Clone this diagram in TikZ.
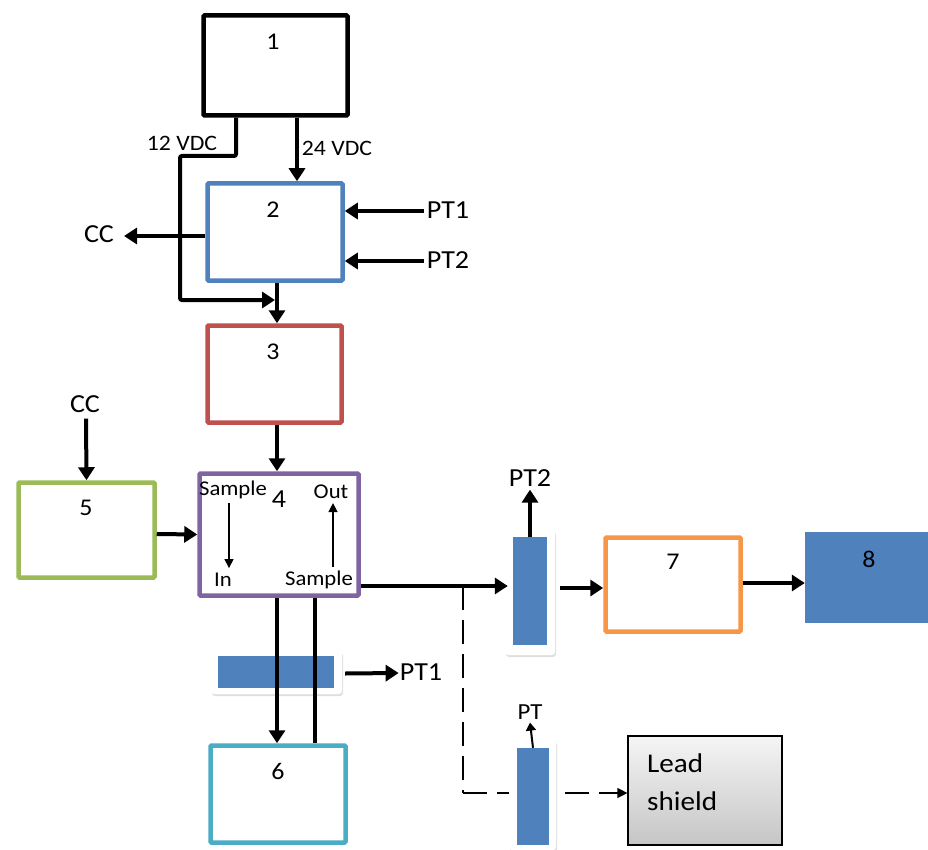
\documentclass[tikz,border=0pt]{standalone}
\usepackage{fontspec}
\setmainfont{Carlito}[FakeStretch=1.08]
\usetikzlibrary{arrows.meta,calc,shadows}
\definecolor{cblue}{RGB}{79,129,189}
\definecolor{cred}{RGB}{192,80,77}
\definecolor{cpurple}{RGB}{128,100,162}
\definecolor{cgreen}{RGB}{155,187,89}
\definecolor{ccyan}{RGB}{75,172,198}
\definecolor{corange}{RGB}{247,150,70}
\newcommand{\fs}[1]{\fontsize{#1}{#1}\selectfont}
\begin{document}
\begin{tikzpicture}[x=1pt,y=-1pt,
  box/.style={draw, line width=4.5pt, rectangle, inner sep=0pt, fill=white, rounded corners=1pt},
  arr/.style={line width=4pt, -{Triangle[length=13pt,width=16pt]}},
  thinarr/.style={line width=1.4pt, -{Triangle[length=9pt,width=9pt]}},
  lbl/.style={inner sep=0pt, font=\fs{24}},
  ptl/.style={inner sep=0pt, font=\fs{26}},
  small/.style={inner sep=0pt, font=\fs{21}},
  barframe/.style={rectangle, fill=white, rounded corners=3pt, inner sep=0pt,
     drop shadow={opacity=0.25, shadow xshift=1pt, shadow yshift=-2pt}},
  bluebar/.style={rectangle, fill=cblue, inner sep=0pt},
  dashln/.style={line width=1.3pt, dash pattern=on 24pt off 10pt}]
\useasboundingbox (0,0) rectangle (928,850);
\fill[white] (0,0) rectangle (928,850);
\begin{scope}
\clip (0,0) rectangle (928,850);

% boxes
\node[box, draw=black, minimum width=144pt, minimum height=100pt] (b1) at (275.5,65.5) {};
\node[box, draw=cblue, minimum width=135pt, minimum height=97pt] (b2) at (275,232) {};
\node[box, draw=cred, minimum width=134pt, minimum height=97pt] (b3) at (274.5,374) {};
\node[box, draw=cpurple, minimum width=159pt, minimum height=122pt] (b4) at (279,534.5) {};
\node[box, draw=cgreen, minimum width=136pt, minimum height=95pt] (b5) at (86.5,530) {};
\node[box, draw=ccyan, minimum width=135pt, minimum height=97pt] (b6) at (278,794) {};
\node[box, draw=corange, minimum width=135pt, minimum height=94pt] (b7) at (673,584.5) {};
\node[rectangle, fill=cblue, inner sep=0pt, minimum width=123pt, minimum height=91pt] (b8) at (866.5,577.5) {};
\node[draw, line width=1.2pt, top color=gray!8, bottom color=gray!45, inner sep=0pt,
      minimum width=154pt, minimum height=109pt] (ls) at (705,790.5) {};

% box labels
\node[lbl] (t1) at (273,42) {1};
\node[lbl] (t2) at (273,210) {2};
\node[lbl] (t3) at (273,352) {3};
\node[lbl, font=\fs{26}] (t4) at (279,499) {4};
\node[lbl] (t5) at (86,508) {5};
\node[lbl] (t6) at (278,771) {6};
\node[lbl] (t7) at (673,562) {7};
\node[lbl] (t8) at (869,559) {8};
\node[lbl, anchor=west, font=\fs{27}] (tl1) at (647,763) {Lead};
\node[lbl, anchor=west, font=\fs{27}] (tl2) at (647,801) {shield};

% top connections
\node[small, font=\fs{22}] (v12) at (182,143) {12 VDC};
\node[small, font=\fs{22}] (v24) at (337,148) {24 VDC};
\coordinate (k1) at (180,156);
\coordinate (k2) at (275,300);
\draw[line width=4pt, rounded corners=2pt, -{Triangle[length=13pt,width=16pt]}]
  ($(b1.south)+(-39.5,0)$) |- (k1) |- (k2);
\draw[arr] ($(b1.south)+(21.5,0)$) -- ($(b2.north)+(22,0)$);
\draw[arr] ($(b2.south)+(2,0)$) -- ($(b3.north)+(2.5,0)$);

\node[ptl] (cc1) at (99,234) {CC};
\coordinate (cce) at (124,236);
\draw[arr] ($(b2.west)+(0,4)$) -- (cce);

\node[ptl] (pt1a) at (448,210) {PT1};
\node[ptl] (pt2a) at (448,260) {PT2};
\draw[arr] ($(pt1a.west)+(-3,1)$) -- ($(b2.east)+(0,-21)$);
\draw[arr] ($(pt2a.west)+(-3,1)$) -- ($(b2.east)+(0,29)$);

\draw[arr] ($(b3.south)+(2.5,0)$) -- ($(b4.north)+(-2,0)$);

\node[ptl] (cc2) at (85,404) {CC};
\draw[arr] ($(cc2.south)+(1,6)$) -- (b5.north);
\draw[arr] ($(b5.east)+(0,4)$) -- ($(b4.west)+(0,0)$);

% inside box 4
\node[small] (s1) at (233,490) {Sample};
\node[small] (in) at (223,580) {In};
\node[small] (out) at (331,492) {Out};
\node[small] (s2) at (319,580) {Sample};
\draw[thinarr] ($(s1.south)+(-4,4)$) -- ($(in.north)+(6,-5)$);
\draw[thinarr] ($(s2.north)+(14,-4)$) -- ($(out.south)+(2,4)$);

% dashed path to lead shield
\coordinate (d1) at (463,586);
\coordinate (d2) at (463,793);
\draw[dashln] (d1) -- (d2);
\draw[dashln, -{Triangle[length=10pt,width=10pt]}] (d2) -- (ls.west |- d2);

% vertical bars
\node[barframe, minimum width=50pt, minimum height=125pt] (vb) at (530,592.5) {};
\node[bluebar, minimum width=34pt, minimum height=108pt] (vbi) at (530,591) {};
\node[barframe, minimum width=47pt, minimum height=110pt] (vb2) at (532.5,795) {};
\node[bluebar, minimum width=32pt, minimum height=97pt] (vb2i) at (533,796.5) {};

% horizontal bar
\node[barframe, minimum width=131pt, minimum height=43pt] (hb) at (276.5,672.5) {};
\node[bluebar, minimum width=116pt, minimum height=32pt] (hbi) at (276,672) {};

% lines from box 4
\draw[line width=4pt, -] ($(b4.east)+(0,51.5)$) -- (d1);
\draw[arr] (d1) -- ($(vb.west)+(3,-6.5)$);
\draw[arr] ($(b4.south)+(-2,0)$) -- ($(b6.north)+(-1,0)$);
\draw[line width=4pt] ($(b4.south)+(36,0)$) -- ($(b6.north)+(37,0)$);

\node[ptl] (pt1b) at (421,672) {PT1};
\draw[arr] ($(hb.east)+(3,1)$) -- ($(pt1b.west)+(-1,1)$);

\node[ptl] (pt2b) at (530,478) {PT2};
\draw[arr] (vbi.north) -- ($(pt2b.south)+(0,3)$);
\draw[arr] ($(vb.east)+(5,-4.5)$) -- ($(b7.west)+(0,3.5)$);
\draw[arr] ($(b7.east)+(0,-1.5)$) -- ($(b8.west)+(0,5.5)$);

\node[ptl, font=\fs{23}] (ptc) at (530,712) {PT};
\draw[line width=2pt, -{Triangle[length=8pt,width=10pt]}] (vb2i.north) -- ($(ptc.south)+(0,3)$);
\end{scope}
\end{tikzpicture}
\end{document}
